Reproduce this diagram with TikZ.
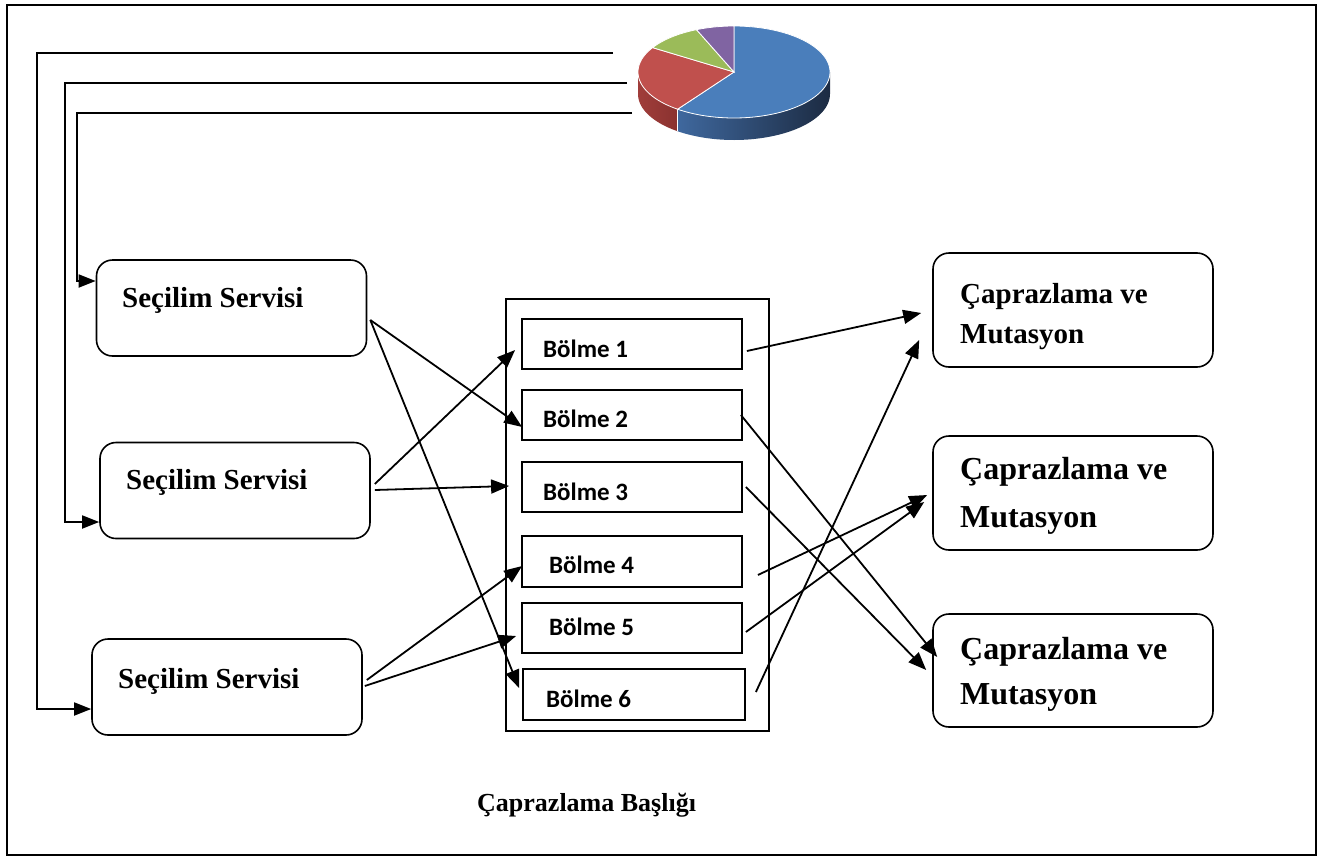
\documentclass[tikz,border=0pt]{standalone}
\usepackage{fontspec}
\setmainfont{Liberation Serif}
\newfontfamily\calfont{Carlito}
\usetikzlibrary{arrows.meta,calc}

\definecolor{pieblue}{HTML}{4A7EBB}
\definecolor{piered}{HTML}{C0504D}
\definecolor{piegreen}{HTML}{9BBB59}
\definecolor{piepurple}{HTML}{8064A2}
\definecolor{sideblueL}{HTML}{3F689E}
\definecolor{sideblueR}{HTML}{1C2B42}
\definecolor{sideredL}{HTML}{A03D3A}
\definecolor{sideredR}{HTML}{8A3230}

\tikzset{
  svcbox/.style={draw, line width=1.6pt, rounded corners=16pt, minimum width=270pt, minimum height=96pt},
  opbox/.style={draw, line width=1.6pt, rounded corners=16pt, minimum width=280pt, minimum height=114pt},
  partbox/.style={draw, line width=1.8pt, minimum width=220pt, minimum height=50pt},
  holder/.style={draw, line width=1.8pt},
  svctext/.style={anchor=base west, inner sep=0pt, font=\bfseries\fontsize{29}{35}\selectfont},
  optext/.style={anchor=base west, inner sep=0pt, font=\bfseries\fontsize{#1}{36}\selectfont},
  parttext/.style={anchor=base west, inner sep=0pt, font=\calfont\bfseries\fontsize{25}{30}\selectfont},
  link/.style={line width=1.8pt, -{Triangle[length=18pt,width=14pt]}},
  feed/.style={line width=1.8pt, -{Triangle[length=17pt,width=13pt]}}
}

\begin{document}
\begin{tikzpicture}[x=1pt,y=-1pt]
\useasboundingbox (0,0) rectangle (1323,857);
% outer frame
\draw[line width=2pt] (7,5) rectangle (1316,855);

% 3D pie chart
\def\pcx{734}\def\pcy{72}\def\prx{96}\def\pry{46}\def\pdp{22}
\shade[left color=sideredL, right color=sideredR]
  plot[domain=180:234,samples=30] ({\pcx+\prx*cos(\x)},{\pcy-\pry*sin(\x)})
  -- plot[domain=234:180,samples=30] ({\pcx+\prx*cos(\x)},{\pcy+\pdp-\pry*sin(\x)}) -- cycle;
\shade[left color=sideblueL, right color=sideblueR]
  plot[domain=234:360,samples=50] ({\pcx+\prx*cos(\x)},{\pcy-\pry*sin(\x)})
  -- plot[domain=360:234,samples=50] ({\pcx+\prx*cos(\x)},{\pcy+\pdp-\pry*sin(\x)}) -- cycle;
\draw[white, line width=0.8pt]
  ({\pcx+\prx*cos(234)},{\pcy-\pry*sin(234)}) -- ({\pcx+\prx*cos(234)},{\pcy+\pdp-\pry*sin(234)});
\fill[pieblue, draw=white, line width=0.8pt] (\pcx,\pcy)
  -- plot[domain=234:450,samples=80] ({\pcx+\prx*cos(\x)},{\pcy-\pry*sin(\x)}) -- cycle;
\fill[piered, draw=white, line width=0.8pt] (\pcx,\pcy)
  -- plot[domain=148:234,samples=40] ({\pcx+\prx*cos(\x)},{\pcy-\pry*sin(\x)}) -- cycle;
\fill[piegreen, draw=white, line width=0.8pt] (\pcx,\pcy)
  -- plot[domain=113:148,samples=20] ({\pcx+\prx*cos(\x)},{\pcy-\pry*sin(\x)}) -- cycle;
\fill[piepurple, draw=white, line width=0.8pt] (\pcx,\pcy)
  -- plot[domain=90:113,samples=20] ({\pcx+\prx*cos(\x)},{\pcy-\pry*sin(\x)}) -- cycle;

% selection services
\node[svcbox] (s1) at (231.5,308) {};
\node[svcbox] (s2) at (235,490.5) {};
\node[svcbox] (s3) at (227,687) {};
\node[svctext] (s1t) at (122,307) {Seçilim Servisi};
\node[svctext] (s2t) at (126,489) {Seçilim Servisi};
\node[svctext] (s3t) at (118,688) {Seçilim Servisi};

% partition holder and partitions
\node[holder, minimum width=263pt, minimum height=432pt] (hold) at (637.5,515) {};
\node[partbox] (b1) at (632,344) {};
\node[partbox] (b2) at (632,415) {};
\node[partbox] (b3) at (632,487) {};
\node[partbox, minimum height=51pt] (b4) at (632,561.5) {};
\node[partbox] (b5) at (632,628) {};
\node[partbox, minimum width=222pt, minimum height=51pt] (b6) at (634,694.5) {};
\node[parttext] (b1t) at (543,357) {Bölme 1};
\node[parttext] (b2t) at (543,427) {Bölme 2};
\node[parttext] (b3t) at (543,500) {Bölme 3};
\node[parttext] (b4t) at (549,573) {Bölme 4};
\node[parttext] (b5t) at (549,635) {Bölme 5};
\node[parttext] (b6t) at (546,707) {Bölme 6};

% crossover and mutation
\node[opbox] (r1) at (1073,310) {};
\node[opbox] (r2) at (1073,493) {};
\node[opbox, minimum height=113pt] (r3) at (1073,670.5) {};
\node[optext=29] (r1a) at (960,303) {Çaprazlama ve};
\node[optext=29] (r1b) at (960,343) {Mutasyon};
\node[optext=32] (r2a) at (960,479) {Çaprazlama ve};
\node[optext=32] (r2b) at (960,527) {Mutasyon};
\node[optext=32] (r3a) at (960,659) {Çaprazlama ve};
\node[optext=32] (r3b) at (960,704) {Mutasyon};

% caption
\node[anchor=base west, inner sep=0pt, font=\bfseries\fontsize{26}{30}\selectfont] (cap) at (477,811) {Çaprazlama Başlığı};

% feedback lines from the pie to the services
\coordinate (p1) at (613,53);
\coordinate (p2) at (627,83);
\coordinate (p3) at (632,113);
\coordinate (c1) at (37,709);
\coordinate (c2) at (65,522);
\coordinate (c3) at (77,281);
\draw[feed] (p1) -| (c1) -- (c1 -| s3.west);
\draw[feed] (p2) -| (c2) -- (c2 -| s2.west);
\draw[feed] (p3) -| (c3) -- (c3 -| s1.west);

% services to partitions
\draw[link] ($(s1.east)+(3,12)$) -- ($(b2.west)+(1,12)$);
\draw[link] ($(s1.east)+(3,12)$) -- ($(b6.west)+(-3,-6.5)$);
\draw[link] ($(s2.east)+(4,-6.5)$) -- ($(b1.west)+(-6,6)$);
\draw[link] ($(s2.east)+(4,-0.5)$) -- ($(b3.west)+(-12,-1)$);
\draw[link] ($(s3.east)+(4,-7)$) -- ($(b4.west)+(1,4.5)$);
\draw[link] ($(s3.east)+(2,-1)$) -- ($(b5.west)+(-5,8)$);

% partitions to crossover and mutation
\draw[link] ($(b1.east)+(4,7)$) -- ($(r1.west)+(-11,3)$);
\draw[link] ($(b6.east)+(10,-2.5)$) -- ($(r1.west)+(-13,30)$);
\draw[link] ($(b2.east)+(-2,0)$) -- ($(r3.west)+(5,-13.5)$);
\draw[link] ($(b3.east)+(3,0)$) -- ($(r3.west)+(-6,-0.5)$);
\draw[link] ($(b4.east)+(15,13.5)$) -- ($(r2.west)+(-5,2)$);
\draw[link] ($(b5.east)+(3,4)$) -- ($(r2.west)+(-8,9)$);
\end{tikzpicture}
\end{document}
